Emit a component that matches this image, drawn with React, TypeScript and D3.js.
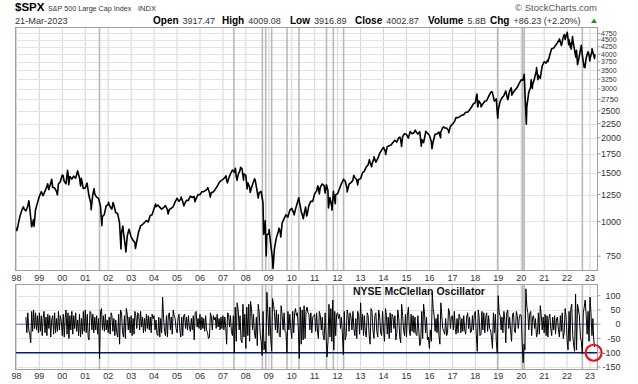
import React, { useEffect, useRef } from "react";
import { select, scaleUtc, scaleLog, scaleLinear, line, utcParse, utcYear, utcFormat } from "d3";

// S&P 500 month-end closes, Jan 1998 .. Feb 2023
const spxMonthEnd = [
  980, 1049, 1102, 1112, 1091, 1134, 1121, 957, 1017, 1099, 1164, 1229,
  1280, 1238, 1286, 1335, 1302, 1373, 1329, 1320, 1283, 1363, 1389, 1469,
  1394, 1366, 1499, 1452, 1421, 1455, 1431, 1518, 1437, 1429, 1315, 1320,
  1366, 1240, 1160, 1249, 1256, 1224, 1211, 1134, 1041, 1060, 1139, 1148,
  1130, 1107, 1147, 1077, 1067, 990, 912, 916, 815, 886, 936, 880,
  856, 841, 848, 917, 964, 975, 990, 1008, 996, 1051, 1058, 1112,
  1131, 1145, 1126, 1107, 1121, 1141, 1102, 1104, 1115, 1130, 1174, 1212,
  1181, 1204, 1181, 1157, 1192, 1191, 1234, 1220, 1229, 1207, 1249, 1248,
  1280, 1281, 1295, 1311, 1270, 1270, 1277, 1304, 1336, 1378, 1401, 1418,
  1438, 1407, 1421, 1482, 1531, 1503, 1455, 1474, 1527, 1549, 1481, 1468,
  1379, 1331, 1323, 1386, 1400, 1280, 1267, 1283, 1166, 969, 896, 903,
  826, 735, 798, 873, 919, 919, 987, 1021, 1057, 1036, 1096, 1115,
  1074, 1104, 1169, 1187, 1089, 1031, 1102, 1049, 1141, 1183, 1181, 1258,
  1286, 1327, 1326, 1364, 1345, 1321, 1292, 1219, 1131, 1253, 1247, 1258,
  1312, 1366, 1408, 1398, 1310, 1362, 1379, 1407, 1441, 1412, 1416, 1426,
  1498, 1515, 1569, 1598, 1631, 1606, 1686, 1633, 1682, 1757, 1806, 1848,
  1783, 1859, 1872, 1884, 1924, 1960, 1931, 2003, 1972, 2018, 2068, 2059,
  1995, 2105, 2068, 2086, 2107, 2063, 2104, 1972, 1920, 2079, 2080, 2044,
  1940, 1932, 2060, 2065, 2097, 2099, 2174, 2171, 2168, 2126, 2199, 2239,
  2279, 2364, 2363, 2384, 2412, 2423, 2470, 2472, 2519, 2575, 2648, 2674,
  2824, 2714, 2641, 2648, 2705, 2718, 2816, 2902, 2914, 2712, 2760, 2507,
  2704, 2784, 2834, 2946, 2752, 2942, 2980, 2926, 2977, 3038, 3141, 3231,
  3226, 2954, 2585, 2912, 3044, 3100, 3271, 3500, 3363, 3270, 3622, 3756,
  3714, 3811, 3973, 4181, 4204, 4298, 4395, 4523, 4308, 4605, 4567, 4766,
  4516, 4374, 4530, 4132, 4132, 3785, 4130, 3955, 3586, 3872, 4080, 3840,
  4077, 3970,
];

// intra-month highs and lows
const spxTurns: [string, number][] = [
  ["1997-12-11", 954], ["1998-01-09", 927], ["1998-04-22", 1130], ["1998-07-17", 1187],
  ["1998-10-08", 959], ["1999-05-13", 1367], ["1999-07-16", 1419], ["1999-10-15", 1247],
  ["2000-01-14", 1465], ["2000-03-24", 1527], ["2000-04-14", 1356], ["2000-09-01", 1520],
  ["2000-10-18", 1342], ["2001-01-30", 1374], ["2001-04-04", 1103], ["2001-05-21", 1312],
  ["2001-09-21", 966], ["2002-01-04", 1172], ["2002-03-19", 1170], ["2002-07-23", 797],
  ["2002-08-22", 962], ["2002-10-09", 777], ["2002-11-27", 938], ["2003-03-11", 800],
  ["2004-01-26", 1155], ["2004-08-12", 1064], ["2005-03-07", 1225], ["2005-04-20", 1138],
  ["2005-10-13", 1177], ["2006-05-05", 1325], ["2006-06-13", 1223], ["2007-02-20", 1460],
  ["2007-03-14", 1377], ["2007-07-19", 1553], ["2007-08-15", 1406], ["2007-10-09", 1565],
  ["2007-11-26", 1407], ["2008-01-22", 1310], ["2008-03-10", 1273], ["2008-05-19", 1426],
  ["2008-07-15", 1214], ["2008-10-10", 899], ["2008-11-04", 1005], ["2008-11-20", 752],
  ["2009-01-06", 935], ["2009-03-09", 677], ["2009-06-12", 946], ["2009-07-10", 879],
  ["2010-02-08", 1056], ["2010-04-23", 1217], ["2010-07-02", 1023], ["2010-08-09", 1128],
  ["2010-08-26", 1047], ["2011-02-18", 1343], ["2011-03-16", 1257], ["2011-06-15", 1266],
  ["2011-07-07", 1354], ["2011-08-08", 1119], ["2011-10-03", 1099], ["2011-10-27", 1285],
  ["2011-11-25", 1159], ["2012-04-02", 1419], ["2012-06-01", 1278], ["2012-09-14", 1466],
  ["2012-11-15", 1353], ["2013-05-21", 1669], ["2013-06-24", 1573], ["2013-08-02", 1710],
  ["2014-02-03", 1742], ["2014-09-18", 2011], ["2014-10-15", 1862], ["2015-05-21", 2131],
  ["2015-08-25", 1867], ["2015-11-03", 2110], ["2016-02-11", 1829], ["2016-06-27", 2001],
  ["2016-08-15", 2190], ["2016-11-04", 2085], ["2018-01-26", 2873], ["2018-02-08", 2581],
  ["2018-04-02", 2582], ["2018-09-20", 2931], ["2018-12-24", 2351], ["2019-06-03", 2744],
  ["2019-07-26", 3026], ["2019-08-05", 2845], ["2020-02-19", 3386], ["2020-03-23", 2237],
  ["2020-06-08", 3232], ["2020-06-26", 3009], ["2020-09-02", 3580], ["2020-09-23", 3237],
  ["2021-03-04", 3768], ["2021-09-02", 4537], ["2021-10-04", 4300], ["2021-11-18", 4705],
  ["2021-12-01", 4513], ["2022-01-03", 4797], ["2022-01-27", 4327], ["2022-02-23", 4226],
  ["2022-03-08", 4171], ["2022-03-29", 4631], ["2022-05-20", 3901], ["2022-06-16", 3667],
  ["2022-08-16", 4305], ["2022-10-12", 3577], ["2022-12-13", 4019], ["2022-12-28", 3783],
  ["2023-02-02", 4179], ["2023-03-13", 3855], ["2023-03-21", 4003],
];

// NYSE McClellan Oscillator, readings on the 1st and 16th of each month from 1 Jun 1998
const mcStart = { year: 1998, slot: 10 };
const mcClellan = [
  25, -30, 40, -20, -35, -65, 45, -25, 50, -15, 40, -20, 30, -30,
  40, -25, 30, -40, 20, 45, -30, 25, -40, 35, -15, 30, -45, 15, 30, -35, 40, -30, 20, -25, 45, -20, 30, 10,
  -40, 35, -45, 25, 50, -35, 40, -50, 30, -20, 45, -35, 30, -15, 40, -25, 15, -40, 35, -45, 20, -35, 45, -25,
  50, -30, 35, -45, -55, 45, 40, -20, 35, -30, 25, -20, 30, -35, 20, -120, 45, 55, -20, 30, -25, 35, -20, 15,
  -30, 25, -35, 40, 30, -25, 20, -40, 15, -30, -45, 35, -70, 50, 40, -25, -45, 30, -50, 55, 35, -20, 25, -30,
  30, -40, 20, -35, 45, 30, -15, 40, 35, -20, 45, -10, 25, -30, 20, -25, 35, -15, 30, -20, 25, -30, 35, 20,
  30, -20, 15, -35, -40, 25, -45, 20, -30, 95, 20, -25, -40, 30, -45, 35, 40, -20, 25, -35, 50, 30, 20, -15,
  -30, 20, 35, -25, -45, 25, -40, 30, 35, -15, 25, -20, 30, -10, -25, 20, -20, 30, -55, 40, 45, -10, 20, -15,
  35, -20, 25, -15, 20, -25, 30, -20, -30, -50, -45, 40, 25, -20, 30, 15, 25, -15, 35, -10, 20, -20, 25, -15,
  30, -20, 25, -15, -70, 40, 35, -10, 30, -25, -40, 30, -100, 60, -60, 75, 50, -20, 30, -55, -65, 70, -45, 35,
  -85, 60, -40, 70, -60, 80, 50, -20, 35, -30, -50, 25, -75, 70, 40, -35, -60, -110, 45, -90, -60, -100, 112, 40,
  -40, 60, -55, -95, 90, 70, 40, -20, 50, -30, 35, -40, -45, 65, 30, -20, 40, -25, -30, -100, 45, -20, 35, -15,
  -50, 45, -30, 40, 55, 30, 40, -20, -120, 60, -70, 50, -55, 65, -50, 45, 60, 40, 35, -20, 40, -30, 25, 30,
  35, -25, 40, -30, -50, 45, 30, -20, 25, -40, -55, 40, -35, -115, -60, 70, -45, 55, -60, 85, -90, 45, -40, 35,
  40, 20, 35, -15, 25, -30, -107, 45, -55, -40, 50, 30, -25, 40, 25, -20, 45, -15, -40, 20, -50, 45, 30, -35,
  75, -20, 35, -40, 30, -25, -45, 40, 30, -35, -70, 55, 45, -20, -50, 30, 40, -25, -45, 50, 25, -30, -40, 45,
  -20, -60, 55, 30, -35, 25, -50, 40, -30, 35, 25, -15, 30, -55, -30, 50, 20, -45, -65, 70, 30, -20, -40, 35,
  -45, 30, 60, -20, -40, 35, -25, 30, -30, 25, -35, -40, 30, -20, -75, -60, 45, -50, 70, 35, -30, 25, -55, -45,
  -85, -20, -60, 112, 55, 30, -25, 20, -30, 35, -40, -70, 75, 30, -15, -25, -35, 20, -40, -30, 55, 40, -15, 25,
  30, -20, 45, -15, -35, 20, -30, 35, 25, -30, 20, -25, 30, -20, -35, 25, 40, -15, 25, -30, -25, 30, -20, 35,
  45, -35, -95, 50, 30, -40, -35, 45, -20, 40, -30, 25, 40, -25, 30, -15, -20, -45, -85, 40, -30, 35, -60, -100,
  100, 40, 30, -20, 25, -30, 45, 15, -65, 40, 50, -15, 25, -20, -60, 35, 40, -25, -30, 45, 30, -15, 20, 35,
  30, -60, -135, -70, -90, 124, 60, 40, -20, 35, 45, -40, 25, 30, -15, 20, -45, -30, 40, -35, 65, 30, -20, 25,
  -30, 35, -40, 30, -45, 20, 35, -15, -40, 25, -20, 30, -35, 20, 25, -20, -45, 30, -25, 40, -50, -30, 55, 25,
  -55, -90, 45, -60, 55, 70, -40, -75, -95, 106, -90, 70, 50, 30, -45, -60, -105, 40, 60, 85, 30, -35, 45, -60,
  95, 40, -40, 20, -55, -80,
];

// grey marker lines drawn across both panels
const markerDates = [
  "2001-08-15", "2007-06-25", "2008-09-20", "2008-11-12", "2009-02-15", "2009-10-18",
  "2010-04-25", "2011-07-08", "2011-10-25", "2012-04-05", "2018-12-22", "2020-01-22",
  "2020-02-18", "2022-09-01",
];

const spxTicks = [750, 1000, 1250, 1500, 1750, 2000, 2250, 2500, 2750, 3000, 3250, 3500, 3750, 4000, 4250, 4500, 4750];
const mcTicks = [100, 50, 0, -50, -100, -150];

const quoteFields = [
  { label: "Open", value: "3917.47", x: 153 },
  { label: "High", value: "4009.08", x: 222 },
  { label: "Low", value: "3916.89", x: 290 },
  { label: "Close", value: "4002.87", x: 355 },
  { label: "Volume", value: "5.8B", x: 428 },
  { label: "Chg", value: "+86.23 (+2.20%)", x: 490 },
];

const FONT = '"Liberation Sans", Arial, Helvetica, sans-serif';

export default function App() {
  const ref = useRef<SVGSVGElement | null>(null);

  useEffect(() => {
    const svg = select(ref.current);
    svg.selectAll("*").remove();
    svg.style("font-family", FONT);

    const parseDay = utcParse("%Y-%m-%d");

    const spx = [
      ...spxMonthEnd.map((v, i) => ({ date: new Date(Date.UTC(1998, i + 1, 0)), value: v })),
      ...spxTurns.map(([d, v]) => ({ date: parseDay(d) as Date, value: v })),
    ].sort((a, b) => +a.date - +b.date);

    const mcc = mcClellan.map((v, i) => {
      const k = mcStart.slot + i;
      const year = mcStart.year + Math.floor(k / 24);
      const month = Math.floor((k % 24) / 2);
      return { date: new Date(Date.UTC(year, month, k % 2 ? 16 : 1)), value: v };
    });

    const left = 15;
    const right = 598;
    const top = { y0: 27, y1: 270 };
    const bot = { y0: 284, y1: 369 };

    const x = scaleUtc()
      .domain([parseDay("1997-12-09") as Date, parseDay("2023-05-08") as Date])
      .range([left, right]);
    const y = scaleLog().domain([669, 5008]).range([top.y1, top.y0]);
    const y2 = scaleLinear().domain([-157, 141]).range([bot.y1, bot.y0]);

    const years = utcYear.range(parseDay("1998-01-01") as Date, parseDay("2024-01-01") as Date);
    const fmtYear = utcFormat("%y");

    svg.append("rect").attr("width", 638).attr("height", 384).attr("fill", "#fff");

    // clip paths
    const defs = svg.append("defs");
    defs.append("clipPath").attr("id", "clip-top")
      .append("rect").attr("x", left).attr("y", top.y0).attr("width", right - left).attr("height", top.y1 - top.y0);
    defs.append("clipPath").attr("id", "clip-bot")
      .append("rect").attr("x", left).attr("y", bot.y0).attr("width", right - left).attr("height", bot.y1 - bot.y0);

    const panels = [top, bot];

    panels.forEach((p) => {
      svg.append("g").selectAll("line").data(years).join("line")
        .attr("x1", (d) => x(d)).attr("x2", (d) => x(d))
        .attr("y1", p.y0).attr("y2", p.y1)
        .attr("stroke", "#d4d4d4").attr("stroke-width", 1);
    });

    // horizontal grid, price panel
    svg.append("g").selectAll("line").data(spxTicks).join("line")
      .attr("x1", left).attr("x2", right)
      .attr("y1", (d) => Math.round(y(d)) + 0.5).attr("y2", (d) => Math.round(y(d)) + 0.5)
      .attr("stroke", "#e3e3e3");

    // horizontal grid, oscillator panel
    svg.append("g").selectAll("line").data(mcTicks.filter((t) => t !== 0 && t !== -100)).join("line")
      .attr("x1", left).attr("x2", right)
      .attr("y1", (d) => Math.round(y2(d)) + 0.5).attr("y2", (d) => Math.round(y2(d)) + 0.5)
      .attr("stroke", "#e3e3e3");

    // grey marker lines
    panels.forEach((p) => {
      svg.append("g").selectAll("line").data(markerDates).join("line")
        .attr("x1", (d) => x(parseDay(d) as Date)).attr("x2", (d) => x(parseDay(d) as Date))
        .attr("y1", p.y0).attr("y2", p.y1)
        .attr("stroke", "#b9b9b9").attr("stroke-width", 1.6);
    });

    // zero and -100 lines
    svg.append("line")
      .attr("x1", left).attr("x2", right).attr("y1", y2(0)).attr("y2", y2(0))
      .attr("stroke", "#4a5cb0").attr("stroke-width", 1);
    svg.append("line")
      .attr("x1", left).attr("x2", right).attr("y1", y2(-100)).attr("y2", y2(-100))
      .attr("stroke", "#0a1a70").attr("stroke-width", 1.6);

    // price line
    const priceLine = line<{ date: Date; value: number }>()
      .x((d) => x(d.date))
      .y((d) => y(d.value));
    svg.append("path")
      .datum(spx)
      .attr("clip-path", "url(#clip-top)")
      .attr("d", priceLine)
      .attr("fill", "none")
      .attr("stroke", "#000")
      .attr("stroke-width", 1.6)
      .attr("stroke-linejoin", "round");

    // oscillator line
    const oscLine = line<{ date: Date; value: number }>()
      .x((d) => x(d.date))
      .y((d) => y2(d.value));
    svg.append("path")
      .datum(mcc)
      .attr("clip-path", "url(#clip-bot)")
      .attr("d", oscLine)
      .attr("fill", "none")
      .attr("stroke", "#000")
      .attr("stroke-width", 1)
      .attr("stroke-linejoin", "round");

    // panel borders
    panels.forEach((p) => {
      svg.append("rect")
        .attr("x", left + 0.5).attr("y", p.y0 + 0.5)
        .attr("width", right - left - 1).attr("height", p.y1 - p.y0)
        .attr("fill", "none").attr("stroke", "#a0a0a0");
    });

    // x axis labels
    [top.y1 + 10.5, bot.y1 + 9.5].forEach((ly) => {
      svg.append("g").selectAll("text").data(years).join("text")
        .attr("x", (d) => x(d)).attr("y", ly)
        .attr("text-anchor", "middle")
        .attr("font-size", 9).attr("fill", "#333")
        .text((d) => fmtYear(d));
    });

    // price axis labels (crowded labels shrink like the source chart)
    const ys = spxTicks.map((t) => y(t));
    svg.append("g").selectAll("text").data(spxTicks).join("text")
      .each(function (d, i) {
        const gaps = [ys[i - 1], ys[i + 1]].filter((v) => v !== undefined).map((v) => Math.abs((v as number) - ys[i]));
        const fs = Math.max(7, Math.min(9, Math.min(...gaps) * 0.75));
        const label = String(d);
        select(this)
          .attr("x", 601 + (4 - label.length) * 0.556 * fs)
          .attr("y", ys[i])
          .attr("dy", "0.35em")
          .attr("font-size", fs)
          .attr("fill", "#333")
          .text(label);
      });
    svg.append("g").selectAll("line").data(spxTicks).join("line")
      .attr("x1", right).attr("x2", right + 2.5)
      .attr("y1", (d) => y(d)).attr("y2", (d) => y(d))
      .attr("stroke", "#999");

    // oscillator axis labels
    svg.append("g").selectAll("text").data(mcTicks).join("text")
      .attr("x", 620.5).attr("y", (d) => y2(d)).attr("dy", "0.35em")
      .attr("text-anchor", "end").attr("font-size", 9).attr("fill", "#333")
      .text((d) => String(d));
    svg.append("g").selectAll("line").data(mcTicks).join("line")
      .attr("x1", right).attr("x2", right + 2.5)
      .attr("y1", (d) => y2(d)).attr("y2", (d) => y2(d))
      .attr("stroke", "#999");

    // oscillator title
    svg.append("text")
      .attr("x", 353).attr("y", 295)
      .attr("font-size", 10.5).attr("font-weight", "bold").attr("fill", "#111")
      .text("NYSE McClellan Oscillator");

    // red circle annotation
    svg.append("circle")
      .attr("cx", x(parseDay("2023-02-28") as Date)).attr("cy", y2(-100)).attr("r", 8)
      .attr("fill", "none").attr("stroke", "#e8141c").attr("stroke-width", 2.2);

    // header
    svg.append("text").attr("x", 15).attr("y", 11)
      .attr("font-size", 11.5).attr("font-weight", "bold").attr("fill", "#000").text("$SPX");
    svg.append("text").attr("x", 48).attr("y", 11)
      .attr("font-size", 7.2).attr("fill", "#333")
      .text("S&P 500 Large Cap Index");
    svg.append("text").attr("x", 138).attr("y", 11)
      .attr("font-size", 7.6).attr("fill", "#333")
      .text("INDX");
    svg.append("text").attr("x", 597).attr("y", 11)
      .attr("text-anchor", "end").attr("font-size", 9.5).attr("fill", "#555")
      .text("© StockCharts.com");
    svg.append("text").attr("x", 15).attr("y", 24)
      .attr("font-size", 9.2).attr("fill", "#333").text("21-Mar-2023");

    quoteFields.forEach((f) => {
      const t = svg.append("text").attr("x", f.x).attr("y", 24);
      t.append("tspan").attr("font-size", 10).attr("font-weight", "bold").attr("fill", "#000").text(f.label);
      t.append("tspan").attr("dx", 4).attr("font-size", 9).attr("fill", "#333").text(f.value);
    });
    svg.append("path")
      .attr("d", "M591,23 L597,23 L594,18.5 Z")
      .attr("fill", "#1a9a1a");
  }, []);

  return (
    <svg
      ref={ref}
      width={638}
      height={384}
      style={{ position: "absolute", left: 0, top: 0, display: "block" }}
    />
  );
}
